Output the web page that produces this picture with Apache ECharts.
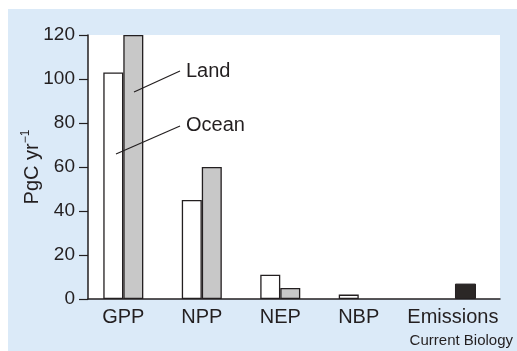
<!DOCTYPE html>
<html>
<head>
<meta charset="utf-8">
<script src="https://cdn.jsdelivr.net/npm/echarts@6/dist/echarts.min.js"></script>
<style>
  html, body { margin: 0; padding: 0; background: #fff; }
  #chart { width: 517px; height: 351px; }
</style>
</head>
<body>
<div id="chart"></div>
<script>
// Global carbon fluxes (PgC per year)
const categories = ['GPP', 'NPP', 'NEP', 'NBP', 'Emissions'];
const oceanValues = [103, 45, 11, 2];
const landValues = [120, 60, 5, 0];
const emissionsValue = 7;
const yTicks = [0, 20, 40, 60, 80, 100, 120];

// Where each category sits along the numeric x axis
const catPos = [1, 2, 3, 4, 5.2];
const emissionsBarPos = 5.36;
const X_MIN = 0.55, X_MAX = 5.8;

const ink = '#231f20';
const font = '"Liberation Sans", Arial, sans-serif';

const chart = echarts.init(document.getElementById('chart'), null, { renderer: 'canvas' });

const xAxisBase = {
  type: 'value',
  min: X_MIN,
  max: X_MAX,
  splitLine: { show: false },
  axisTick: { show: false }
};

// zero-height bars are left undrawn
const toPoints = vals => vals.map((v, i) => (v === 0 ? [catPos[i], null] : [catPos[i], v]));

chart.setOption({
  backgroundColor: '#fff',
  animation: false,
  graphic: [
    // light blue panel
    { type: 'rect', left: 8, top: 9, shape: { width: 509, height: 342 }, style: { fill: '#dbeaf8' }, z: -10 },
    // leader lines + labels
    { type: 'line', shape: { x1: 180, y1: 71, x2: 134, y2: 92 }, style: { stroke: ink, lineWidth: 1.2 }, z: 10 },
    { type: 'line', shape: { x1: 180, y1: 126, x2: 116, y2: 154 }, style: { stroke: ink, lineWidth: 1.2 }, z: 10 },
    { type: 'text', left: 186, top: 61, style: { text: 'Land', font: '20px ' + font, fill: ink }, z: 10 },
    { type: 'text', left: 186, top: 115, style: { text: 'Ocean', font: '20px ' + font, fill: ink }, z: 10 },
    { type: 'text', right: 4, top: 333, style: { text: 'Current Biology', font: '15px ' + font, fill: ink }, z: 10 }
  ],
  grid: {
    left: 88, right: 17, top: 35, bottom: 52,
    show: true, backgroundColor: '#ffffff', borderWidth: 0
  },
  xAxis: [
    Object.assign({}, xAxisBase, {
      axisLine: { show: true, lineStyle: { color: ink, width: 1.5 } },
      axisLabel: {
        customValues: catPos,
        formatter: v => categories[catPos.indexOf(v)] || '',
        color: ink, fontSize: 20, fontFamily: font, margin: 8
      }
    }),
    Object.assign({}, xAxisBase, { show: false })
  ],
  yAxis: {
    type: 'value',
    min: yTicks[0],
    max: yTicks[yTicks.length - 1],
    interval: 20,
    splitLine: { show: false },
    axisLine: { show: true, lineStyle: { color: ink, width: 1.5 } },
    axisTick: { show: true, inside: false, length: 9, lineStyle: { color: ink, width: 1.2 } },
    axisLabel: { color: ink, fontSize: 19, fontFamily: font, margin: 13 },
    name: '{m|PgC yr}{s|−1}',
    nameLocation: 'middle',
    nameRotate: 90,
    nameGap: 44,
    nameMoveOverlap: false,
    nameTextStyle: {
      color: ink, fontFamily: font,
      rich: {
        m: { fontSize: 20, fontFamily: font, color: ink, lineHeight: 24 },
        s: { fontSize: 12, fontFamily: font, color: ink, verticalAlign: 'top', lineHeight: 24, padding: [0, 0, 10, 0] }
      }
    }
  },
  series: [
    {
      name: 'Ocean', type: 'bar', xAxisIndex: 0,
      barWidth: 20, barGap: '0%',
      data: toPoints(oceanValues),
      itemStyle: { color: '#ffffff', borderColor: ink, borderWidth: 1.3 }
    },
    {
      name: 'Land', type: 'bar', xAxisIndex: 0,
      barWidth: 20, barGap: '0%',
      data: toPoints(landValues),
      itemStyle: { color: '#c8c8c8', borderColor: ink, borderWidth: 1.3 }
    },
    {
      name: 'Emissions', type: 'bar', xAxisIndex: 1,
      barWidth: 21,
      data: [[emissionsBarPos, emissionsValue]],
      itemStyle: { color: '#2b2726', borderColor: ink, borderWidth: 1 }
    }
  ]
});
</script>
</body>
</html>
